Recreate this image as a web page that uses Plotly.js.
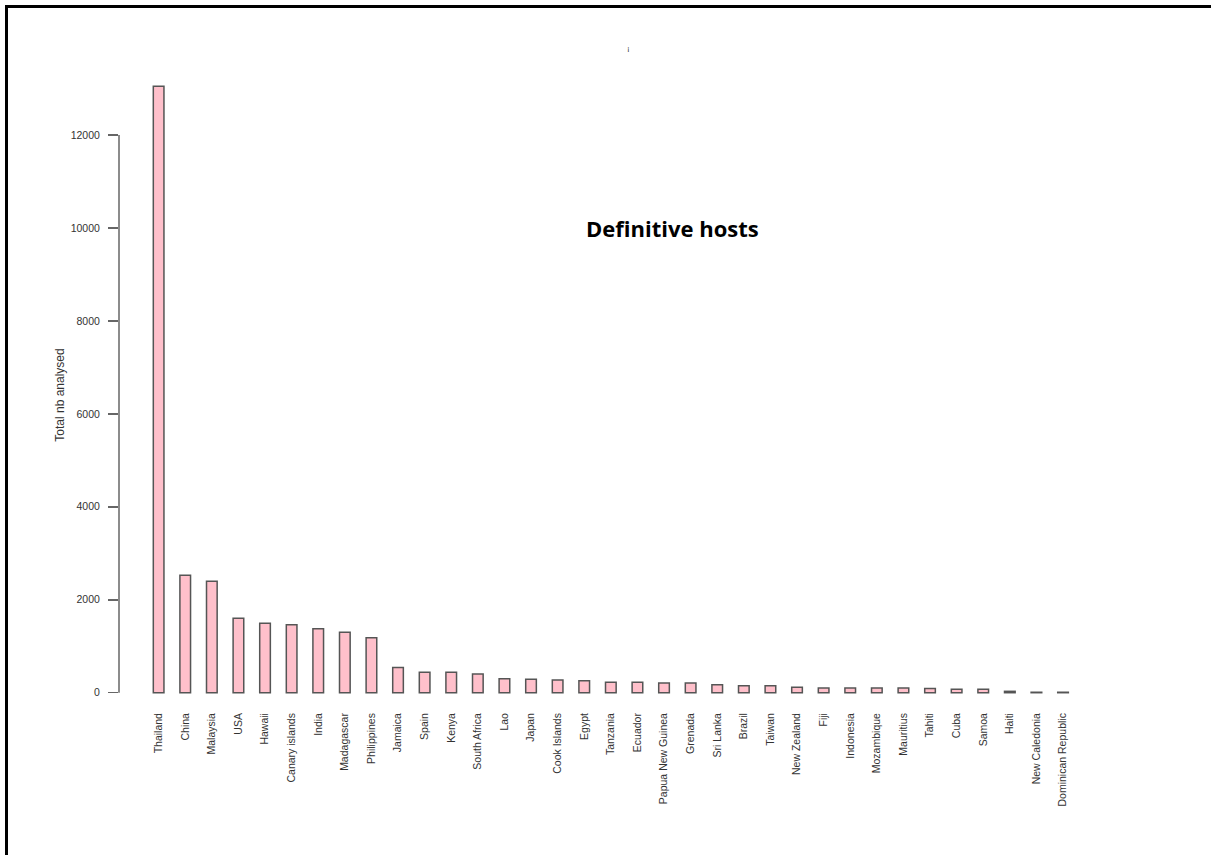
<!DOCTYPE html>
<html>
<head>
<meta charset="utf-8">
<script src="https://cdn.plot.ly/plotly-3.0.1.min.js"></script>
<style>
  html, body { margin: 0; padding: 0; background: #fff; }
  #wrap { position: relative; width: 1211px; height: 855px; overflow: hidden; }
  #chart { position: absolute; left: 0; top: 0; width: 1211px; height: 855px; }
  #frame { position: absolute; left: 5px; top: 5px; width: 1300px; height: 1000px;
           border-left: 3px solid #000; border-top: 3px solid #000; pointer-events: none; }
</style>
</head>
<body>
<div id="wrap">
  <div id="chart"></div>
  <div id="frame"></div>
</div>
<script>
// Data
const countries = [
  "Thailand", "China", "Malaysia", "USA", "Hawaii", "Canary islands", "India",
  "Madagascar", "Philippines", "Jamaica", "Spain", "Kenya", "South Africa", "Lao",
  "Japan", "Cook Islands", "Egypt", "Tanzania", "Ecuador", "Papua New Guinea",
  "Grenada", "Sri Lanka", "Brazil", "Taiwan", "New Zealand", "Fiji", "Indonesia",
  "Mozambique", "Mauritius", "Tahiti", "Cuba", "Samoa", "Haiti", "New Caledonia",
  "Dominican Republic"
];
const totalAnalysed = [
  13050, 2525, 2400, 1600, 1495, 1460, 1375,
  1300, 1180, 545, 440, 440, 405, 300,
  290, 275, 260, 225, 225, 210,
  210, 172, 152, 152, 115, 100, 100,
  100, 100, 92, 75, 75, 30, 10,
  10
];
const yTickValues = [0, 2000, 4000, 6000, 8000, 10000, 12000];
const yTickLabels = ["0", "2000", "4000", "6000", "8000", "10000", "12000"];
const yAxisTitle = "Total nb analysed";
const panelLabel = "Definitive hosts";

const trace = {
  type: "bar",
  x: countries,
  y: totalAnalysed,
  marker: { color: "#FFC0CB", line: { color: "#555555", width: 1.5 } },
  hoverinfo: "x+y"
};

const layout = {
  width: 1211,
  height: 855,
  margin: { l: 119, r: 111, t: 80, b: 145 },
  paper_bgcolor: "#ffffff",
  plot_bgcolor: "#ffffff",
  showlegend: false,
  bargap: 0.6,
  font: { family: "Liberation Sans, Arial, sans-serif", color: "#333333" },
  xaxis: {
    type: "category",
    range: [-1.49, 35.39],
    showgrid: false, zeroline: false, showline: false,
    ticks: "",
    tickangle: -90,
    tickfont: { size: 10.5, color: "#333333" },
    fixedrange: true
  },
  yaxis: {
    range: [-372, 13183],
    showgrid: false, zeroline: false, showline: false,
    tickmode: "array",
    tickvals: yTickValues,
    ticktext: yTickLabels,
    ticks: "outside", ticklen: 10, tickwidth: 1.5, tickcolor: "#666666",
    ticklabelstandoff: 6,
    tickfont: { size: 10.5, color: "#333333" },
    title: { text: yAxisTitle, font: { size: 12, color: "#333333" }, standoff: 3 },
    fixedrange: true
  },
  shapes: [{
    type: "line", xref: "paper", yref: "y",
    x0: 0, x1: 0,
    y0: yTickValues[0], y1: yTickValues[yTickValues.length - 1],
    line: { color: "#666666", width: 1.5 }
  }],
  annotations: [{
    text: panelLabel,
    xref: "paper", yref: "paper",
    x: 0.564, y: 0.765,
    xanchor: "center", yanchor: "middle",
    showarrow: false,
    font: { family: "Open Sans, sans-serif", size: 22, color: "#000000", weight: "bold" }
  }, {
    text: "¡",
    xref: "paper", yref: "paper",
    x: 0.519, y: 1.05,
    xanchor: "center", yanchor: "middle",
    showarrow: false,
    font: { size: 8, color: "#333333" }
  }]
};

Plotly.newPlot("chart", [trace], layout, { displayModeBar: false, staticPlot: true });
</script>
</body>
</html>
